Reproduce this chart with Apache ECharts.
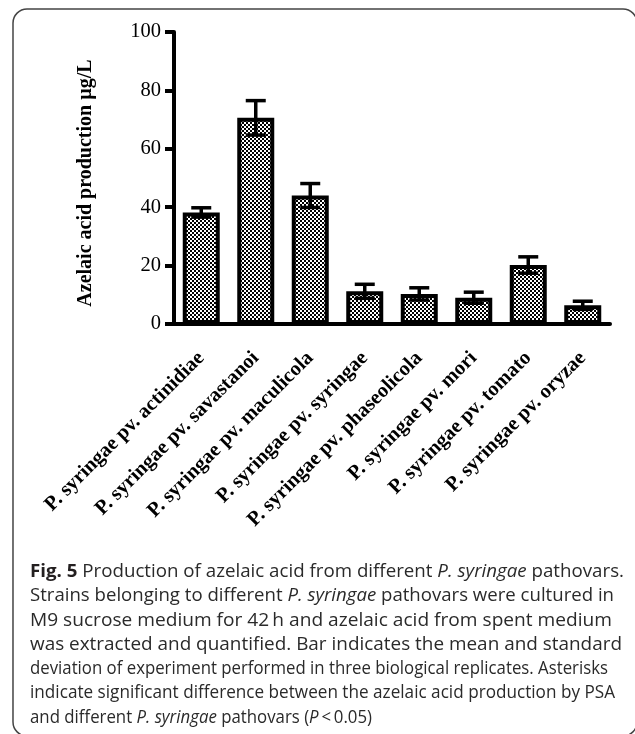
<!DOCTYPE html>
<html>
<head>
<meta charset="utf-8">
<script src="https://cdn.jsdelivr.net/npm/echarts@6/dist/echarts.min.js"></script>
<style>
  html, body { margin: 0; padding: 0; background: #fff; }
  #chart { width: 635px; height: 734px; }
</style>
</head>
<body>
<div id="chart"></div>
<script>
// Pathovar strains along the x axis
const categories = [
  'P. syringae pv. actinidiae',
  'P. syringae pv. savastanoi',
  'P. syringae pv. maculicola',
  'P. syringae pv. syringae',
  'P. syringae pv. phaseolicola',
  'P. syringae pv. mori',
  'P. syringae pv. tomato',
  'P. syringae pv. oryzae'
];
// Mean azelaic acid production (µg/L) and standard deviation
const means = [38.2, 70.6, 44.0, 11.2, 10.3, 9.0, 20.2, 6.4];
const sds   = [1.6, 5.9, 4.1, 2.4, 2.1, 1.9, 2.8, 1.4];
// Y axis range
const yMin = 0, yMax = 100, yStep = 20;

// Caption lines (rich text markup)
const captionLines = [
  '{b|Fig. 5} Production of azelaic acid from different {i|P. syringae} pathovars.',
  'Strains belonging to different {i|P. syringae} pathovars were cultured in',
  'M9 sucrose medium for 42\u2009h and azelaic acid from spent medium',
  'was extracted and quantified. Bar indicates the mean and standard',
  'deviation of experiment performed in three biological replicates. Asterisks',
  'indicate significant difference between the azelaic acid production by PSA',
  'and different {i|P. syringae} pathovars ({i|P}\u2009<\u20090.05)'
];
// Right edge that each typeset caption line reaches
const captionRight = [624, 614, 612, 622, 608, 615, 372];

// Checkered fill for the bars
const tile = document.createElement('canvas');
tile.width = 4; tile.height = 4;
const tctx = tile.getContext('2d');
tctx.fillStyle = '#fff'; tctx.fillRect(0, 0, 4, 4);
tctx.fillStyle = '#000'; tctx.fillRect(0, 0, 2, 2); tctx.fillRect(2, 2, 2, 2);

const serif = '"Liberation Serif", "Times New Roman", serif';
const captionFamily = '"Open Sans", "Noto Sans", sans-serif';
const captionSize = 17.5;
const captionLeft = 30;

// Natural width of a rich-text caption line, used to fit each line to its measure
const measureCtx = document.createElement('canvas').getContext('2d');
function lineWidth(markup) {
  let w = 0;
  const re = /\{(b|i)\|([^}]*)\}|([^{]+)/g;
  let m;
  while ((m = re.exec(markup)) !== null) {
    let font = captionSize + 'px ' + captionFamily;
    let txt = m[3];
    if (m[1] === 'b') { font = 'bold ' + font; txt = m[2]; }
    if (m[1] === 'i') { font = 'italic ' + font; txt = m[2]; }
    measureCtx.font = font;
    w += measureCtx.measureText(txt).width;
  }
  return w;
}

const chart = echarts.init(document.getElementById('chart'), null, { renderer: 'canvas' });

const graphics = [{
  type: 'rect',
  shape: { x: 13, y: 9, width: 624, height: 727, r: 14 },
  style: { fill: 'none', stroke: '#444', lineWidth: 1.5 },
  silent: true
}];

function drawCaption() {
  captionLines.forEach((line, i) => {
    const natural = lineWidth(line);
    const sx = (captionRight[i] - captionLeft) / natural;
    graphics.push({
      type: 'text',
      x: captionLeft,
      y: 572 + i * 24.3,
      scaleX: sx,
      style: {
        text: line,
        font: captionSize + 'px ' + captionFamily,
        fill: '#2a2a2a',
        verticalAlign: 'middle',
        rich: {
          b: { fontWeight: 'bold', fontSize: captionSize, fontFamily: captionFamily, fill: '#231f20' },
          i: { fontStyle: 'italic', fontSize: captionSize, fontFamily: captionFamily, fill: '#2a2a2a' }
        }
      },
      silent: true
    });
  });
}

function render() {
  drawCaption();
  chart.setOption({
    animation: false,
    backgroundColor: '#fff',
    grid: { left: 174, right: 25, top: 32, bottom: 410, containLabel: false },
    xAxis: {
      type: 'category',
      data: categories,
      axisLine: { lineStyle: { color: '#000', width: 4 } },
      axisTick: { alignWithLabel: true, length: 9, lineStyle: { color: '#000', width: 4 } },
      axisLabel: {
        rotate: 45,
        interval: 0,
        margin: 31,
        color: '#000',
        fontFamily: serif,
        fontWeight: 'bold',
        fontSize: 20.5
      }
    },
    yAxis: {
      type: 'value',
      min: yMin, max: yMax, interval: yStep,
      name: 'Azelaic acid production \u00b5g/L',
      nameLocation: 'middle',
      nameGap: 78,
      nameRotate: 90,
      nameTextStyle: { color: '#000', fontFamily: serif, fontWeight: 'bold', fontSize: 20, padding: [0, 10, 0, 0] },
      axisLine: { show: true, lineStyle: { color: '#000', width: 4 } },
      axisTick: { show: true, length: 9, lineStyle: { color: '#000', width: 4 } },
      axisLabel: { color: '#000', fontFamily: serif, fontSize: 20.5, margin: 13 },
      splitLine: { show: false }
    },
    graphic: graphics,
    series: [
      {
        type: 'bar',
        data: means,
        barWidth: 37,
        itemStyle: {
          color: { image: tile, repeat: 'repeat' },
          borderColor: '#000',
          borderWidth: 4
        },
        z: 2
      },
      {
        type: 'custom',
        data: means.map((m, i) => [i, m, sds[i]]),
        z: 3,
        renderItem: function (params, api) {
          const idx = api.value(0), m = api.value(1), s = api.value(2);
          const top = api.coord([idx, m + s]);
          const bot = api.coord([idx, m - s]);
          const hw = 10;
          const st = { stroke: '#000', lineWidth: 3.5 };
          return {
            type: 'group',
            children: [
              { type: 'line', shape: { x1: top[0], y1: top[1], x2: bot[0], y2: bot[1] }, style: st },
              { type: 'line', shape: { x1: top[0] - hw, y1: top[1], x2: top[0] + hw, y2: top[1] }, style: st },
              { type: 'line', shape: { x1: bot[0] - hw, y1: bot[1], x2: bot[0] + hw, y2: bot[1] }, style: st }
            ]
          };
        }
      }
    ]
  });
}

if (document.fonts && document.fonts.load) {
  Promise.all([
    document.fonts.load(captionSize + 'px "Open Sans"'),
    document.fonts.load('bold ' + captionSize + 'px "Open Sans"'),
    document.fonts.load('italic ' + captionSize + 'px "Open Sans"')
  ]).then(render, render);
} else {
  render();
}
</script>
</body>
</html>
